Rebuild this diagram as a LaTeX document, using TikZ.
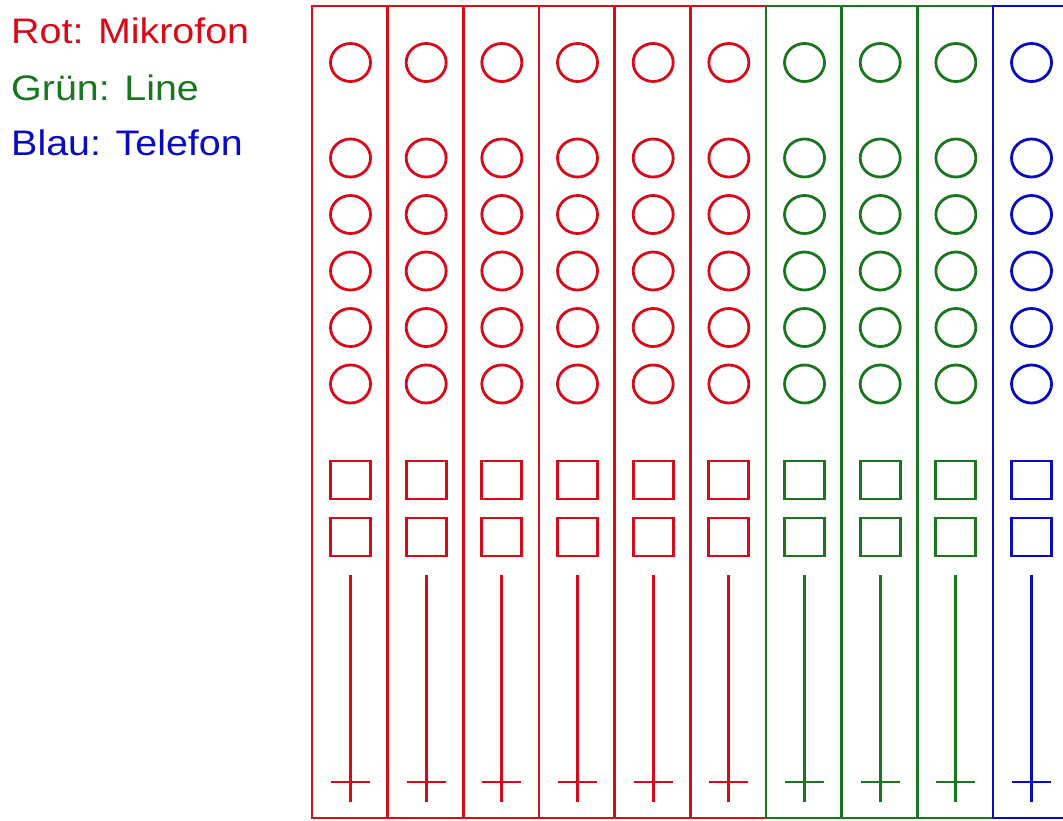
\documentclass[tikz,border=0pt]{standalone}
\usepackage{fontspec}
\setmainfont{Liberation Sans}
\definecolor{cred}{RGB}{215,10,25}
\definecolor{cgreen}{RGB}{25,118,30}
\definecolor{cblue}{RGB}{10,10,190}
\tikzset{
  part/.style={line width=2.8pt},
  legend/.style={font=\fontsize{35.5}{40}\selectfont, anchor=base west, inner sep=0pt, xscale=1.11}
}
\begin{document}
\begin{tikzpicture}[x=1pt,y=-1pt]
\useasboundingbox (0,0) rectangle (1063,820);
\fill[white] (0,0) rectangle (1063,820);
\clip (0,0) rectangle (1063,820);
\node[legend, text=cred] (rot) at (11,43) {Rot: Mikrofon};
\node[legend, text=cgreen] (gruen) at (11,100) {Grün: Line};
\node[legend, text=cblue] (blau) at (11,155) {Blau: Telefon};
\foreach \i in {0,...,9}{
  \ifnum\i<6 \def\col{cred}\else\ifnum\i<9 \def\col{cgreen}\else\def\col{cblue}\fi\fi
  \pgfmathsetmacro{\xl}{312+75.67*\i}
  \pgfmathsetmacro{\xc}{\xl+38.5}
  \begin{scope}[part, draw=\col]
    \draw (\xl,6) rectangle ({\xl+75.67},818);
    \foreach \y in {62.5,158,214.5,271,327.5,384}{
      \draw (\xc,\y) ellipse [x radius=20, y radius=19];
    }
    \draw ({\xc-20},461) rectangle ({\xc+20},499);
    \draw ({\xc-20},518) rectangle ({\xc+20},556);
    \draw (\xc,575) -- (\xc,802);
    \draw ({\xc-19.5},782) -- ({\xc+19.5},782);
  \end{scope}
}
\end{tikzpicture}
\end{document}
